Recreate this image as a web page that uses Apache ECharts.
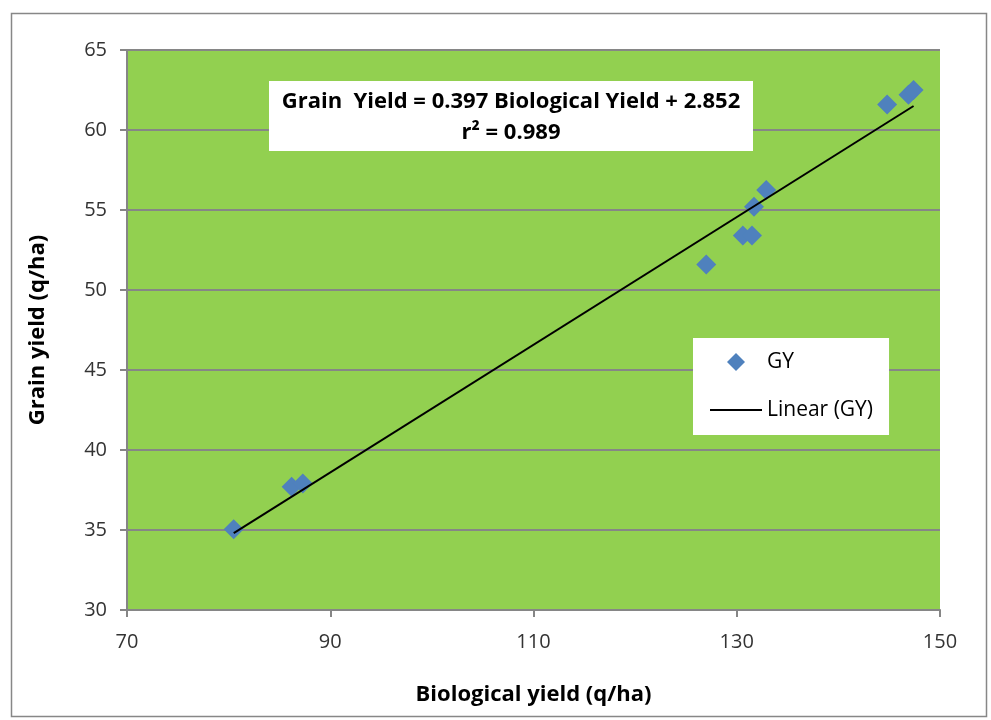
<!DOCTYPE html>
<html><head><meta charset="utf-8">
<script src="https://cdn.jsdelivr.net/npm/echarts@6/dist/echarts.min.js"></script>
<style>html,body{margin:0;padding:0;background:#fff}#c{width:991px;height:720px}</style>
</head><body><div id="c"></div>
<script>
var biologicalYield = [80.5, 86.2, 87.3, 127.0, 130.6, 131.5, 131.7, 132.9, 144.8, 146.9, 147.4];
var grainYield      = [35.05, 37.7, 37.9, 51.6, 53.4, 53.4, 55.2, 56.25, 61.6, 62.2, 62.5];
var trendX = [80.5, 147.4];
var trendY = [34.81, 61.5];
var xTicks = [70, 90, 110, 130, 150];
var yTicks = [30, 35, 40, 45, 50, 55, 60, 65];
var equationLines = ['Grain  Yield = 0.397 Biological Yield + 2.852', 'r\u00b2 = 0.989'];

var chart = echarts.init(document.getElementById('c'));
var font = 'Open Sans, Liberation Sans, sans-serif';
chart.setOption({
  backgroundColor: '#fff',
  animation: false,
  graphic: [
    {type:'rect', left: 9, top: 11, shape:{width: 975, height: 703}, style:{fill:'none', stroke:'#878787', lineWidth:1.5}, silent:true},
    {type:'rect', left: 269, top: 81, z: 100, shape:{width: 484, height: 70}, style:{fill:'#fff'}},
    {type:'text', x: 511, y: 86, z: 101, style:{text: equationLines.join('\n'), fill:'#000', font:'bold 22px ' + font, align:'center', textAlign:'center', lineHeight: 31}}
  ],
  grid: {left: 127, right: 51, top: 50, bottom: 110, show: true, backgroundColor: '#92D050', borderWidth: 0},
  legend: {
    orient: 'vertical', left: 693, top: 338,
    backgroundColor: '#fff', padding: [12, 16, 13, 17], itemGap: 24,
    itemWidth: 52, itemHeight: 18, itemTextGap: 5,
    textStyle: {fontFamily: font, fontSize: 21, color: '#000', lineHeight: 24},
    data: [
      {name: 'GY', icon: 'path://M8,0L16,8L8,16L0,8Z', itemStyle: {color: '#4F81BD'}},
      {name: 'Linear (GY)', icon: 'path://M0,0H52V2H0Z', itemStyle: {color: '#000'}}
    ]
  },
  xAxis: {
    type: 'value', min: 70, max: 150, interval: 20,
    name: 'Biological yield (q/ha)', nameLocation: 'middle', nameGap: 74,
    nameTextStyle: {fontFamily: font, fontWeight: 'bold', fontSize: 22, color: '#000'},
    axisLine: {show: true, lineStyle: {color: '#868686', width: 2}},
    axisTick: {show: true, inside: false, length: 7, lineStyle: {color: '#868686', width: 2}},
    axisLabel: {fontFamily: font, fontSize: 20, color: '#333', margin: 22},
    splitLine: {show: false}
  },
  yAxis: {
    type: 'value', min: 30, max: 65, interval: 5,
    name: 'Grain yield (q/ha)', nameLocation: 'middle', nameGap: 78,
    nameTextStyle: {fontFamily: font, fontWeight: 'bold', fontSize: 22, color: '#000'},
    axisLine: {show: true, lineStyle: {color: '#868686', width: 2}},
    axisTick: {show: true, inside: false, length: 7, lineStyle: {color: '#868686', width: 2}},
    axisLabel: {fontFamily: font, fontSize: 20, color: '#333', margin: 20},
    splitLine: {show: true, lineStyle: {color: '#868686', width: 2}}
  },
  series: [
    {name: 'GY', type: 'scatter', symbol: 'diamond', symbolSize: 20, z: 3,
     itemStyle: {color: '#4F81BD', opacity: 1},
     data: biologicalYield.map(function(v, i){ return [v, grainYield[i]]; })},
    {name: 'Linear (GY)', type: 'line', showSymbol: false, symbol: 'none', z: 4,
     itemStyle: {color: '#000'},
     lineStyle: {color: '#000', width: 2},
     data: trendX.map(function(v, i){ return [v, trendY[i]]; })}
  ]
});
</script></body></html>
